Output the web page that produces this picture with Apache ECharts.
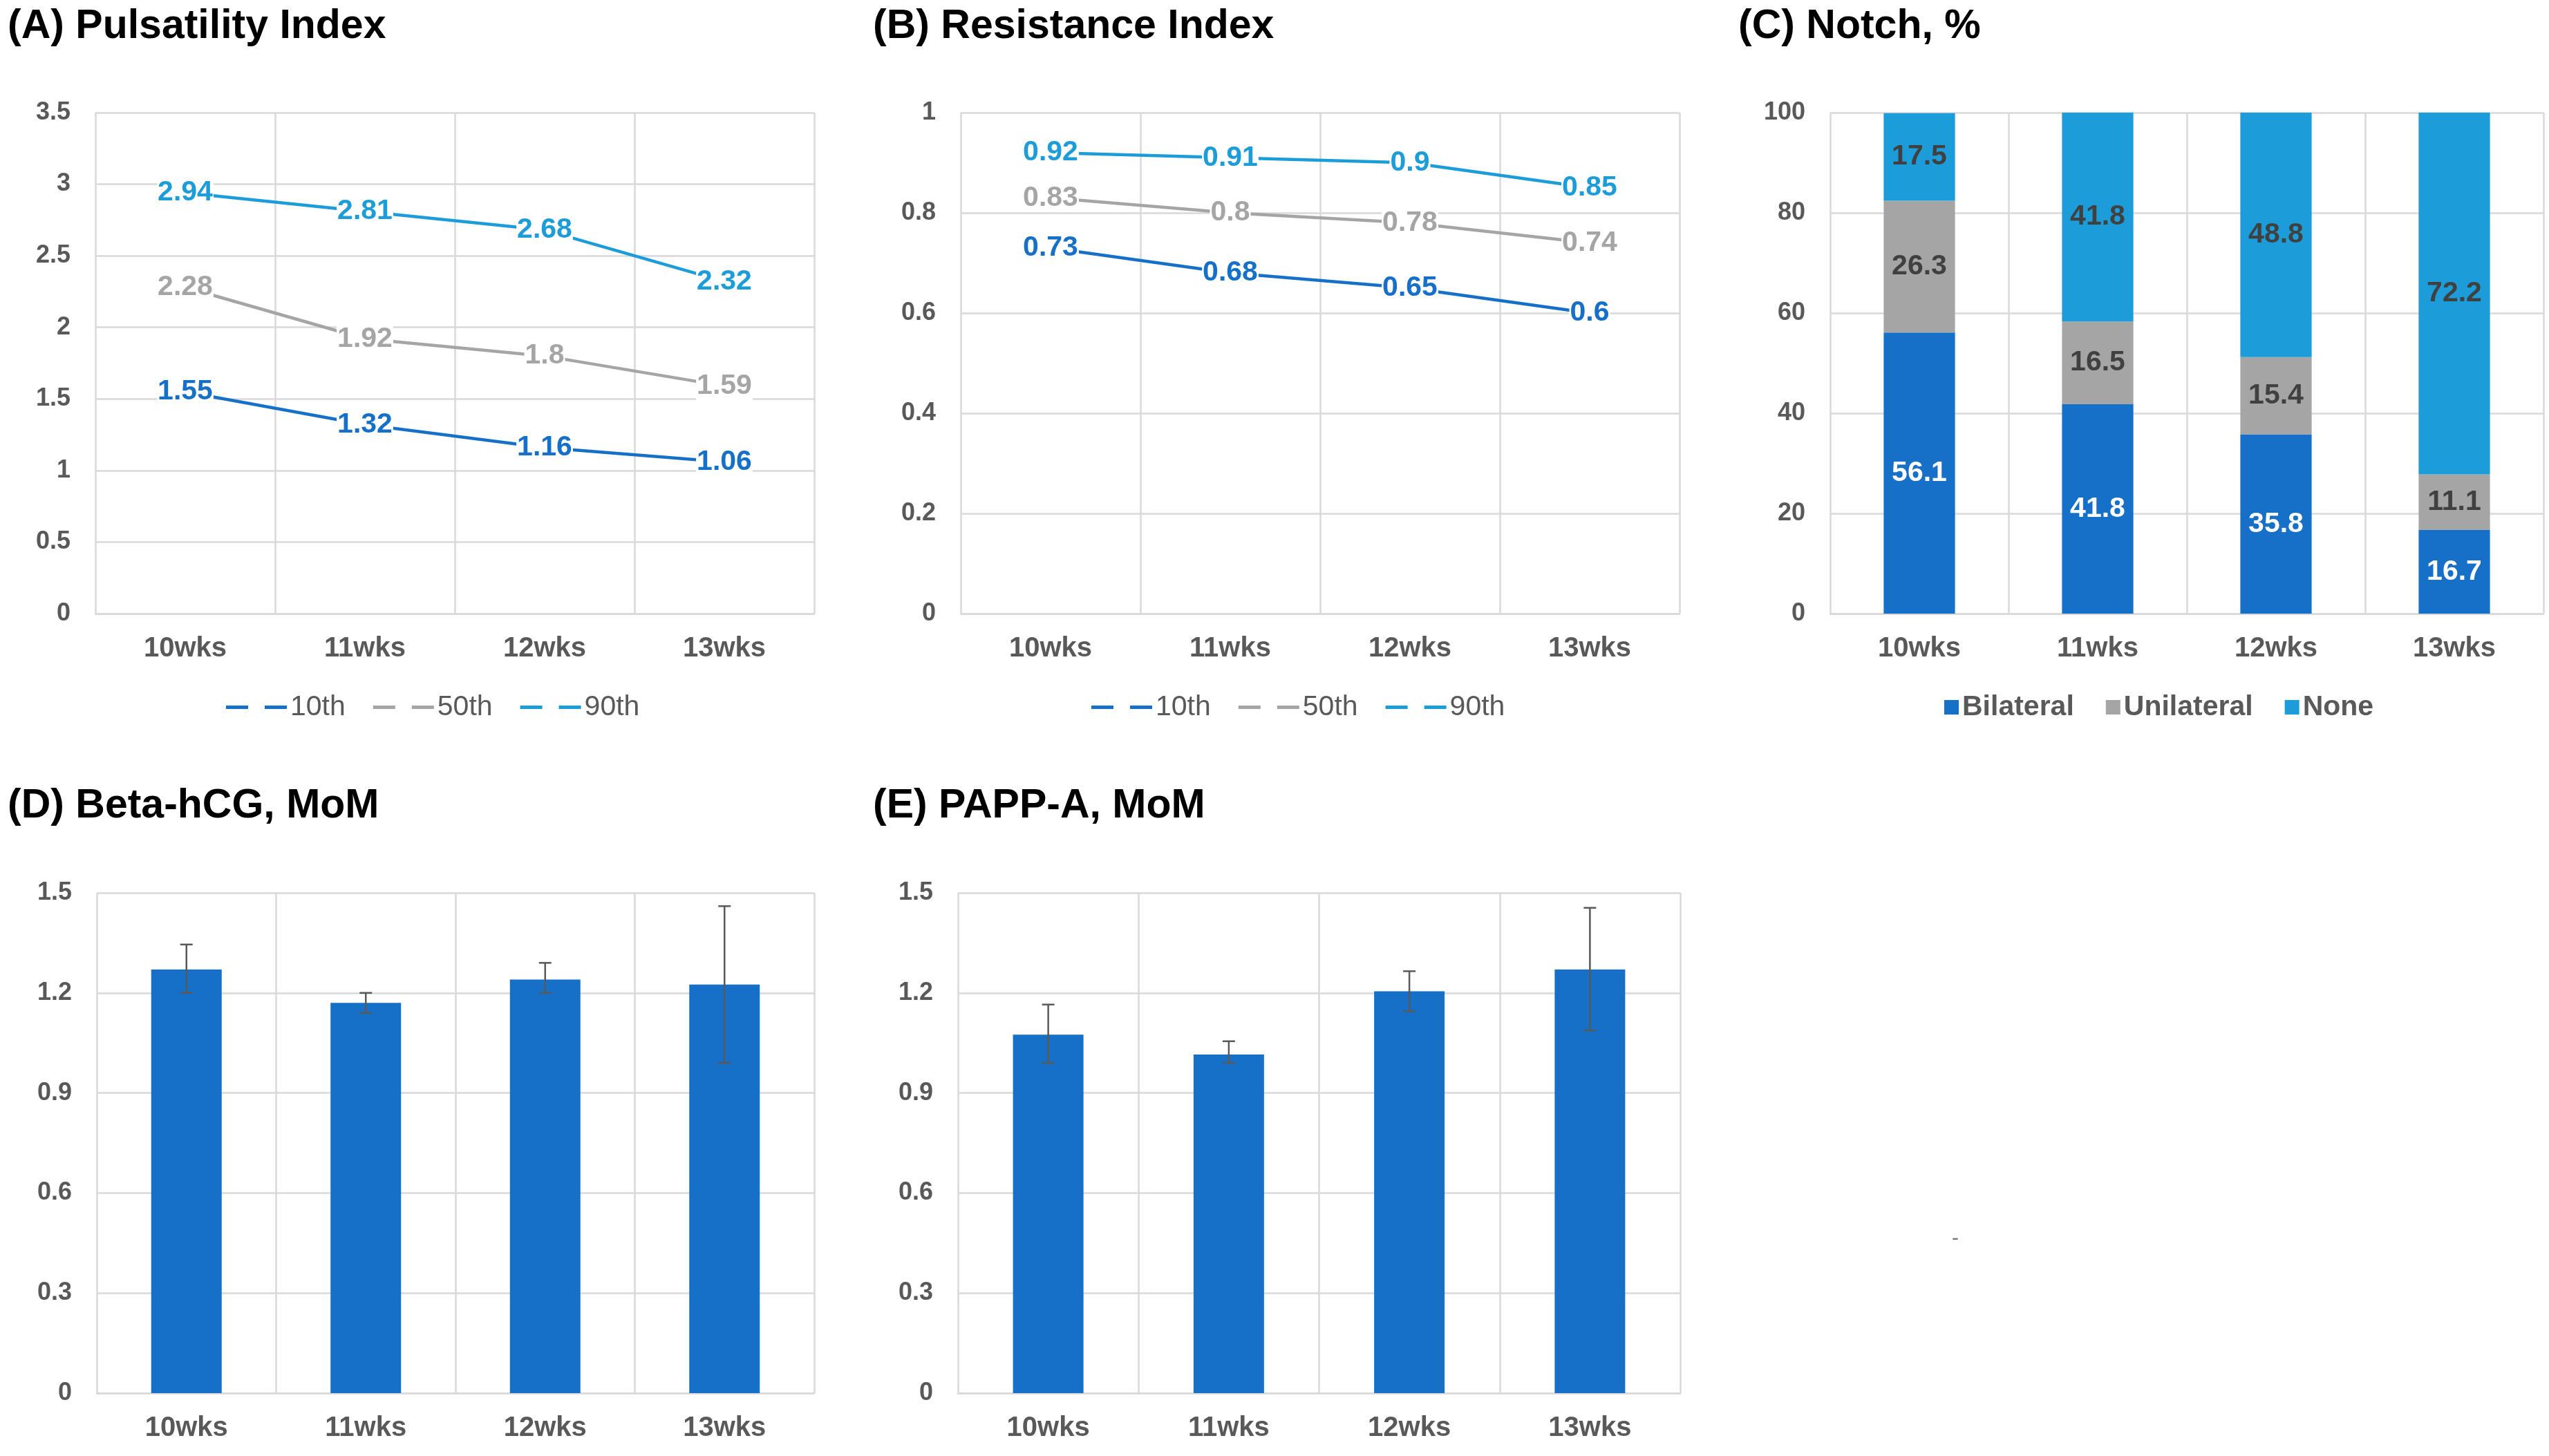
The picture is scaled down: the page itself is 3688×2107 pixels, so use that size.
<!DOCTYPE html>
<html><head><meta charset="utf-8">
<script src="https://cdn.jsdelivr.net/npm/echarts@6/dist/echarts.min.js"></script>
<style>html,body{margin:0;padding:0;background:#fff}#c{width:3688px;height:2107px}</style>
</head><body><div id="c"></div>
<script>
const weeks = ['10wks','11wks','12wks','13wks'];
const piP10 = [1.55, 1.32, 1.16, 1.06];
const piP50 = [2.28, 1.92, 1.8, 1.59];
const piP90 = [2.94, 2.81, 2.68, 2.32];
const riP10 = [0.73, 0.68, 0.65, 0.6];
const riP50 = [0.83, 0.8, 0.78, 0.74];
const riP90 = [0.92, 0.91, 0.9, 0.85];
const notchBilateral = [56.1, 41.8, 35.8, 16.7];
const notchUnilateral = [26.3, 16.5, 15.4, 11.1];
const notchNone = [17.5, 41.8, 48.8, 72.2];
const hcgMean = [1.27, 1.17, 1.24, 1.225];
const hcgLow = [1.20, 1.14, 1.20, 0.99];
const hcgHigh = [1.345, 1.20, 1.29, 1.46];
const pappMean = [1.075, 1.015, 1.205, 1.27];
const pappLow = [0.99, 0.99, 1.145, 1.087];
const pappHigh = [1.165, 1.055, 1.265, 1.455];
const titles = ['(A) Pulsatility Index', '(B) Resistance Index', '(C) Notch, %', '(D) Beta-hCG, MoM', '(E) PAPP-A, MoM'];
const lineNames = ['10th', '50th', '90th'];
const notchNames = ['Bilateral', 'Unilateral', 'None'];

const FONT = '"Liberation Sans", Arial, sans-serif';
const DARK = '#1670C8', GRAY = '#A5A5A5', LIGHT = '#1C9CD8';
const GRID = '#D9D9D9', AX = '#595959';

const grids = [
  {left: 138, top: 163, width: 1040, height: 725},
  {left: 1390, top: 163, width: 1040, height: 725},
  {left: 2648, top: 163, width: 1032, height: 725},
  {left: 140, top: 1292, width: 1038, height: 724},
  {left: 1386, top: 1292, width: 1045, height: 724}
];
const yCfg = [[0, 3.5, 0.5], [0, 1, 0.2], [0, 100, 20], [0, 1.5, 0.3], [0, 1.5, 0.3]];

const xAxes = grids.map((g, i) => ({
  type: 'category', gridIndex: i, data: weeks, boundaryGap: true,
  axisLine: {show: true, lineStyle: {color: GRID, width: 2.5}},
  axisTick: {show: false},
  splitLine: {show: true, lineStyle: {color: GRID, width: 2.5}},
  axisLabel: {color: AX, fontFamily: FONT, fontWeight: 'bold', fontSize: 40, margin: 31}
}));
const yAxes = grids.map((g, i) => ({
  type: 'value', gridIndex: i, min: yCfg[i][0], max: yCfg[i][1], interval: yCfg[i][2],
  axisLine: {show: false}, axisTick: {show: false},
  splitLine: {show: true, lineStyle: {color: GRID, width: 2.5}},
  axisLabel: {color: AX, fontFamily: FONT, fontWeight: 'bold', fontSize: 36, margin: 36}
}));

function lineSeries(name, data, color, idx) {
  return {
    type: 'line', name, data, xAxisIndex: idx, yAxisIndex: idx,
    symbol: 'circle', symbolSize: 1, showSymbol: true,
    lineStyle: {color, width: 4.5}, itemStyle: {color},
    label: {show: true, position: 'inside', color, fontFamily: FONT, fontWeight: 'bold', fontSize: 41,
      backgroundColor: '#fff', padding: [0, 1]},
    emphasis: {disabled: true}
  };
}
function barStack(name, data, color, labelColor) {
  return {
    type: 'bar', name, data, stack: 'n', xAxisIndex: 2, yAxisIndex: 2, barWidth: '40%',
    itemStyle: {color},
    label: {show: true, position: 'inside', color: labelColor, fontFamily: FONT, fontWeight: 'bold', fontSize: 41},
    emphasis: {disabled: true}
  };
}
function errSeries(idx, low, high) {
  return {
    type: 'custom', xAxisIndex: idx, yAxisIndex: idx, z: 5,
    data: weeks.map((w, i) => [i, low[i], high[i]]),
    renderItem(params, api) {
      const x = api.value(0);
      const p1 = api.coord([x, api.value(1)]);
      const p2 = api.coord([x, api.value(2)]);
      const hw = 9;
      const st = {stroke: '#595959', lineWidth: 2.5};
      return {type: 'group', children: [
        {type: 'line', shape: {x1: p1[0], y1: p1[1], x2: p2[0], y2: p2[1]}, style: st},
        {type: 'line', shape: {x1: p1[0] - hw, y1: p1[1], x2: p1[0] + hw, y2: p1[1]}, style: st},
        {type: 'line', shape: {x1: p2[0] - hw, y1: p2[1], x2: p2[0] + hw, y2: p2[1]}, style: st}
      ]};
    }
  };
}

const dashIcon = 'path://M0,0H32V5H0Z M56,0H88V5H56Z';
const legendText = {color: AX, fontFamily: FONT, fontSize: 41};

const option = {
  backgroundColor: '#fff',
  animation: false,
  title: [
    {text: titles[0], left: 6, top: 4},
    {text: titles[1], left: 1258, top: 4},
    {text: titles[2], left: 2510, top: 4},
    {text: titles[3], left: 6, top: 1132},
    {text: titles[4], left: 1258, top: 1132}
  ].map(t => Object.assign(t, {textStyle: {fontFamily: FONT, fontWeight: 'bold', fontSize: 59, color: '#000'}})),
  grid: grids,
  xAxis: xAxes,
  yAxis: yAxes,
  legend: [
    {data: lineNames.map(n => 'A ' + n), left: 322, top: 998, icon: dashIcon, itemWidth: 88, itemHeight: 5, itemGap: 40,
      textStyle: legendText, formatter: n => n.slice(2), selectedMode: false},
    {data: lineNames.map(n => 'B ' + n), left: 1574, top: 998, icon: dashIcon, itemWidth: 88, itemHeight: 5, itemGap: 40,
      textStyle: legendText, formatter: n => n.slice(2), selectedMode: false},
    {data: notchNames, left: 2808, top: 998, icon: 'rect', itemWidth: 21, itemHeight: 21, itemGap: 46,
      textStyle: Object.assign({}, legendText, {fontWeight: 'bold', fontSize: 41}), selectedMode: false}
  ],
  series: [
    lineSeries('A 10th', piP10, DARK, 0),
    lineSeries('A 50th', piP50, GRAY, 0),
    lineSeries('A 90th', piP90, LIGHT, 0),
    lineSeries('B 10th', riP10, DARK, 1),
    lineSeries('B 50th', riP50, GRAY, 1),
    lineSeries('B 90th', riP90, LIGHT, 1),
    barStack('Bilateral', notchBilateral, DARK, '#fff'),
    barStack('Unilateral', notchUnilateral, GRAY, '#404040'),
    barStack('None', notchNone, LIGHT, '#404040'),
    {type: 'bar', name: 'Beta-hCG', data: hcgMean, xAxisIndex: 3, yAxisIndex: 3, barWidth: 102, itemStyle: {color: DARK}},
    errSeries(3, hcgLow, hcgHigh),
    {type: 'bar', name: 'PAPP-A', data: pappMean, xAxisIndex: 4, yAxisIndex: 4, barWidth: 102, itemStyle: {color: DARK}},
    errSeries(4, pappLow, pappHigh)
  ],
  graphic: [
    {type: 'text', left: 2824, top: 1778, style: {text: '-', fill: '#777', font: '30px ' + FONT}}
  ]
};
const chart = echarts.init(document.getElementById('c'));
chart.setOption(option);
</script>
</body></html>
